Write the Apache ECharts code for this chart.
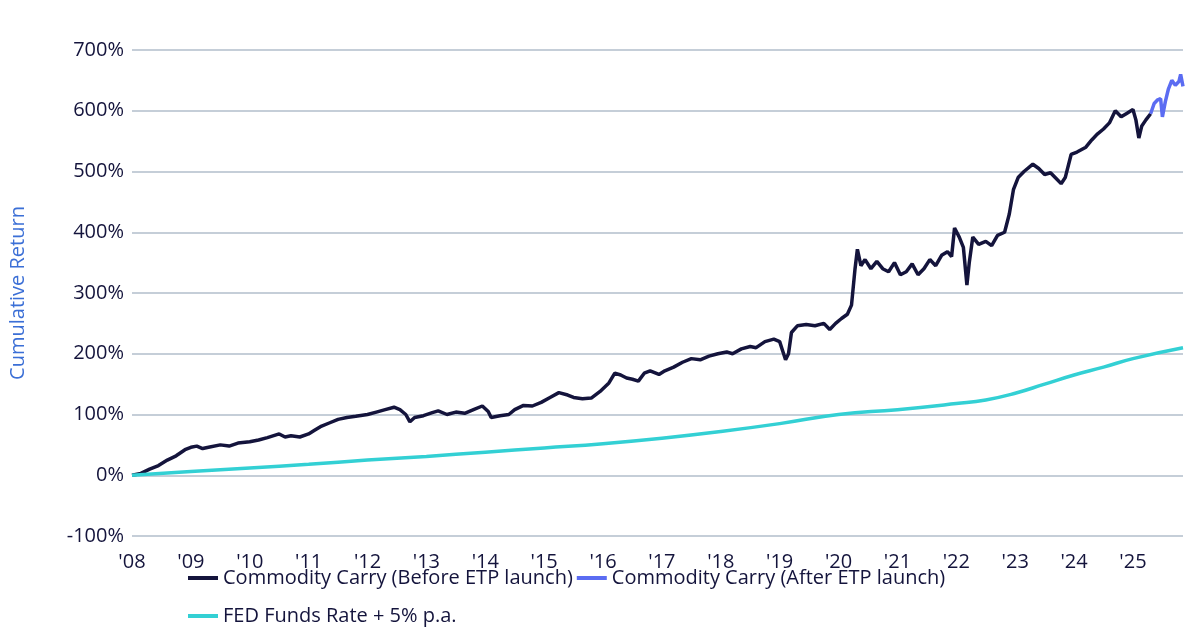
<!DOCTYPE html>
<html>
<head>
    <meta charset="utf-8">
    <title>Commodity Carry</title>
    <script src="https://cdn.jsdelivr.net/npm/echarts@6/dist/echarts.min.js"></script>
</head>
<body style="margin:0">
<div id="chart" style="width:1200px;height:640px;"></div>
<script type="text/javascript">
    var myChart = echarts.init(document.getElementById('chart'));

    // [year, cumulative return %]
    var before = [
        [2008.0,0],[2008.15,3],[2008.3,10],[2008.45,16],[2008.6,25],[2008.75,32],[2008.9,42],[2009.0,46],[2009.1,48],[2009.2,44],[2009.3,46],
        [2009.5,50],[2009.65,48],[2009.8,53],[2010.0,55],[2010.15,58],[2010.3,62],[2010.5,68],[2010.6,63],[2010.7,65],[2010.85,63],
        [2011.0,68],[2011.1,74],[2011.2,80],[2011.35,86],[2011.5,92],[2011.65,95],[2011.8,97],[2012.0,100],[2012.15,104],
        [2012.3,108],[2012.45,112],[2012.55,108],[2012.65,100],[2012.72,88],[2012.8,95],[2012.95,98],[2013.1,103],[2013.2,106],
        [2013.35,100],[2013.5,104],[2013.65,102],[2013.8,108],[2013.95,114],[2014.05,105],[2014.1,95],[2014.25,98],[2014.4,100],
        [2014.5,108],[2014.65,115],[2014.8,114],[2014.95,120],[2015.1,128],[2015.25,136],[2015.4,132],[2015.5,128],[2015.65,126],
        [2015.8,127],[2015.95,138],[2016.1,152],[2016.2,168],[2016.3,165],[2016.4,160],[2016.5,158],[2016.6,155],[2016.7,168],
        [2016.8,172],[2016.95,166],[2017.05,172],[2017.2,178],[2017.35,186],[2017.5,192],[2017.65,190],[2017.8,196],[2017.95,200],
        [2018.1,203],[2018.2,200],[2018.35,208],[2018.5,212],[2018.6,210],[2018.75,220],[2018.9,224],[2019.0,220],[2019.05,205],
        [2019.1,190],[2019.15,200],[2019.2,235],[2019.3,246],[2019.45,248],[2019.6,246],[2019.75,250],[2019.85,240],[2019.95,250],
        [2020.05,258],[2020.15,265],[2020.22,280],[2020.28,340],[2020.32,372],[2020.38,345],[2020.45,355],[2020.55,340],[2020.65,352],
        [2020.75,340],[2020.85,335],[2020.95,350],[2021.05,330],[2021.15,335],[2021.25,348],[2021.35,330],[2021.45,340],[2021.55,355],
        [2021.65,345],[2021.75,362],[2021.85,368],[2021.92,360],[2021.97,407],[2022.05,392],[2022.12,375],[2022.18,313],[2022.22,350],
        [2022.28,392],[2022.38,380],[2022.5,385],[2022.6,378],[2022.7,395],[2022.82,400],[2022.9,430],[2022.97,470],[2023.05,490],
        [2023.15,500],[2023.3,512],[2023.4,505],[2023.5,495],[2023.6,498],[2023.7,488],[2023.78,480],[2023.85,490],[2023.95,528],
        [2024.05,532],[2024.2,540],[2024.3,552],[2024.4,562],[2024.5,570],[2024.6,580],[2024.7,600],[2024.8,590],[2024.9,596],
        [2025.0,602],[2025.05,585],[2025.1,555],[2025.15,575],[2025.22,585],[2025.3,595]
    ];
    var after = [
        [2025.3,595],[2025.36,612],[2025.42,618],[2025.47,620],[2025.5,590],[2025.55,615],[2025.6,635],[2025.66,650],
        [2025.72,642],[2025.78,648],[2025.81,660],[2025.85,640]
    ];
    var fed = [
        [2008,0],[2009,6],[2010,12],[2011,18],[2012,25],[2013,31],[2014,38],[2015,45],[2016,52],[2017,61],
        [2018,72],[2019,85],[2020,100],[2021,108],[2022,118],[2022.5,124],[2023,135],[2023.5,150],[2024,165],[2024.5,178],[2025,192],[2025.85,210]
    ];

    var navy = '#14143c';
    var font = {color: navy, fontSize: 20, fontFamily: 'Open Sans'};
    myChart.setOption({
        animation: false,
        grid: {left: 130, right: 17, top: 50, bottom: 104},
        legend: [
            {data: ['Commodity Carry (Before ETP launch)', 'Commodity Carry (After ETP launch)'], left: 183, top: 563,
             itemWidth: 30, itemGap: 4, icon: 'path://M0,0H30V4H0Z', textStyle: font},
            {data: ['FED Funds Rate + 5% p.a.'], left: 183, top: 601,
             itemWidth: 30, icon: 'path://M0,0H30V4H0Z', textStyle: font}
        ],
        xAxis: {
            type: 'value', min: 2008, max: 2025.85, interval: 1,
            axisLine: {show: true, onZero: true, lineStyle: {color: 'rgba(0,0,0,0)'}},
            axisTick: {show: false}, splitLine: {show: false},
            axisLabel: {
                margin: 16, color: navy, fontSize: 20, fontFamily: 'Open Sans', showMaxLabel: false,
                formatter: function (v) { return "'" + String(v).slice(2); }
            }
        },
        yAxis: {
            type: 'value', min: -100, max: 700, interval: 100,
            name: 'Cumulative Return', nameLocation: 'middle', nameGap: 104,
            nameTextStyle: {color: '#3b6fd6', fontSize: 20, fontFamily: 'Open Sans'},
            axisLine: {show: false}, axisTick: {show: false},
            axisLabel: {color: navy, fontSize: 20, fontFamily: 'Open Sans', margin: 8, formatter: '{value}%'},
            splitLine: {lineStyle: {color: '#c5ced8', width: 2}}
        },
        series: [
            {name: 'Commodity Carry (Before ETP launch)', type: 'line', data: before, showSymbol: false,
             lineStyle: {color: navy, width: 3.5}, itemStyle: {color: navy}},
            {name: 'Commodity Carry (After ETP launch)', type: 'line', data: after, showSymbol: false,
             lineStyle: {color: '#5b6cf2', width: 3.5}, itemStyle: {color: '#5b6cf2'}},
            {name: 'FED Funds Rate + 5% p.a.', type: 'line', data: fed, showSymbol: false, smooth: true,
             lineStyle: {color: '#33d0d4', width: 3.5}, itemStyle: {color: '#33d0d4'}}
        ]
    });
</script>
</html>
